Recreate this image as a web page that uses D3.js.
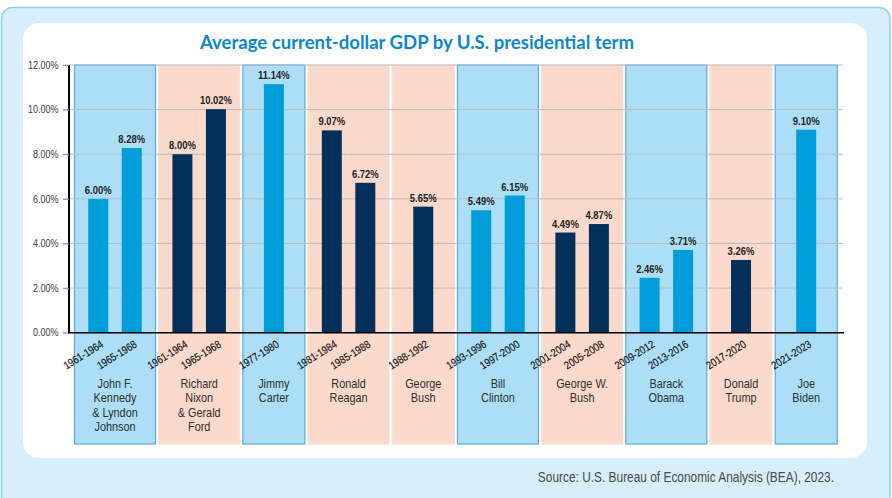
<!DOCTYPE html>
<html>
<head>
<meta charset="utf-8">
<script src="https://cdn.jsdelivr.net/npm/d3@7"></script>
<style>
  html, body { margin: 0; padding: 0; background: #ffffff; }
  svg { display: block; }
  .lbl { font-family: "Liberation Sans", Arial, sans-serif; }
</style>
</head>
<body>
<svg id="chart" width="892" height="498"></svg>
<script>
// Presidential terms, grouped by administration
const presidents = [
  ["John F.", "Kennedy", "& Lyndon", "Johnson"],
  ["Richard", "Nixon", "& Gerald", "Ford"],
  ["Jimmy", "Carter"],
  ["Ronald", "Reagan"],
  ["George", "Bush"],
  ["Bill", "Clinton"],
  ["George W.", "Bush"],
  ["Barack", "Obama"],
  ["Donald", "Trump"],
  ["Joe", "Biden"]
];
const parties = ["D", "R", "D", "R", "R", "D", "R", "D", "R", "D"];
const termLabels = [
  ["1961-1964", "1965-1968"],
  ["1961-1964", "1965-1968"],
  ["1977-1980"],
  ["1981-1984", "1985-1988"],
  ["1988-1992"],
  ["1993-1996", "1997-2000"],
  ["2001-2004", "2005-2008"],
  ["2009-2012", "2013-2016"],
  ["2017-2020"],
  ["2021-2023"]
];
// Average current-dollar GDP growth per term, percent
const gdpValues = [
  [6.00, 8.28],
  [8.00, 10.02],
  [11.14],
  [9.07, 6.72],
  [5.65],
  [5.49, 6.15],
  [4.49, 4.87],
  [2.46, 3.71],
  [3.26],
  [9.10]
];
const yTicks = [0, 2, 4, 6, 8, 10, 12];
const titleText = "Average current-dollar GDP by U.S. presidential term";
const sourceText = "Source: U.S. Bureau of Economic Analysis (BEA), 2023.";

const colors = {
  D: { band: "#acdff7", stroke: "#5ca8df", bar: "#009ddb" },
  R: { band: "#fbd9cb", stroke: "#ece2de", bar: "#02305a" }
};

// Horizontal squeeze applied to label text for a condensed look
const SQ = { tick: 0.9, value: 0.86, term: 0.85, name: 0.87, source: 0.85 };
const termAngle = 32;

const svg = d3.select("#chart");

// Frame: light blue outer panel with a white rounded card inside
svg.append("rect")
  .attr("x", 1.5).attr("y", 7.5).attr("width", 888.5).attr("height", 500)
  .attr("rx", 11).attr("fill", "#d7eefb").attr("stroke", "#90d0f1").attr("stroke-width", 1.5);
svg.append("rect")
  .attr("x", 23).attr("y", 23).attr("width", 844).attr("height", 435)
  .attr("rx", 16).attr("fill", "#ffffff");

svg.append("text")
  .attr("x", 417).attr("y", 49)
  .attr("text-anchor", "middle")
  .attr("font-family", "Lato, 'Open Sans', sans-serif")
  .attr("font-weight", 700)
  .attr("font-size", 18)
  .attr("textLength", 434)
  .attr("lengthAdjust", "spacingAndGlyphs")
  .attr("fill", "#0b87d0")
  .text(titleText);

// Scales
const y = d3.scaleLinear().domain([0, 12]).range([332.7, 65]);

// Group widths in layout units: fixed padding plus one slot per term
const groupUnits = gdpValues.map(v => 44 + 19 * v.length);
const gapUnits = 2.2;
const starts = [];
let acc = 0;
groupUnits.forEach((w, i) => { starts.push(acc); acc += w + (i < groupUnits.length - 1 ? gapUnits : 0); });
const x = d3.scaleLinear().domain([0, acc]).range([74, 837.7]);
const barOffset = 16.75, barWidth = 20;

const groups = presidents.map((name, i) => {
  const x0 = x(starts[i]), x1 = x(starts[i] + groupUnits[i]);
  const cx = (x0 + x1) / 2;
  const n = gdpValues[i].length;
  const bars = gdpValues[i].map((v, j) => ({
    value: v,
    term: termLabels[i][j],
    cx: n === 1 ? cx : cx + (j === 0 ? -barOffset : barOffset),
    party: parties[i]
  }));
  return { name, party: parties[i], x0, x1, cx, bars };
});

// Background bands per administration
const bandBottom = 444;
svg.append("g").selectAll("rect").data(groups).join("rect")
  .attr("x", d => d.x0 + 0.5).attr("y", y(12))
  .attr("width", d => d.x1 - d.x0 - 1).attr("height", d => bandBottom - y(12))
  .attr("fill", d => colors[d.party].band)
  .attr("stroke", d => colors[d.party].stroke)
  .attr("stroke-width", 1.2);

// Gridlines
svg.append("g").selectAll("line").data(yTicks).join("line")
  .attr("x1", 63).attr("x2", 843)
  .attr("y1", d => y(d)).attr("y2", d => y(d))
  .attr("stroke", "#bcbcbc").attr("stroke-width", 1);

// Y axis
const yAxis = svg.append("g")
  .attr("transform", "translate(69,0)")
  .call(d3.axisLeft(y).tickValues(yTicks).tickSize(6).tickPadding(4)
    .tickFormat(d => d.toFixed(2) + "%"));
yAxis.select(".domain").attr("stroke", "#000").attr("stroke-width", 2).attr("d", `M0,${y(12)}V${y(0)}`);
yAxis.selectAll(".tick line").attr("stroke", "#999");
yAxis.selectAll(".tick text")
  .attr("class", "lbl").attr("font-size", 10).attr("fill", "#3a3a3a")
  .attr("x", -10.5 / SQ.tick)
  .attr("transform", `scale(${SQ.tick},1)`);

const allBars = groups.flatMap(g => g.bars);

// Bars
svg.append("g").selectAll("rect").data(allBars).join("rect")
  .attr("x", d => d.cx - barWidth / 2).attr("y", d => y(d.value))
  .attr("width", barWidth).attr("height", d => y(0) - y(d.value))
  .attr("fill", d => colors[d.party].bar);

// Baseline
svg.append("line")
  .attr("x1", 68).attr("x2", 844).attr("y1", y(0)).attr("y2", y(0))
  .attr("stroke", "#000").attr("stroke-width", 1.5);

// Value labels
svg.append("g").selectAll("text").data(allBars).join("text")
  .attr("class", "lbl")
  .attr("transform", d => `translate(${d.cx},${y(d.value) - 5}) scale(${SQ.value},1)`)
  .attr("text-anchor", "middle")
  .attr("font-size", 11).attr("font-weight", 700)
  .attr("fill", "#222")
  .text(d => d.value.toFixed(2) + "%");

// Term labels, rotated under each bar
svg.append("g").selectAll("text").data(allBars).join("text")
  .attr("class", "lbl")
  .attr("transform", d => `translate(${d.cx + 6},${y(0) + 13.5}) rotate(${-termAngle}) scale(${SQ.term},1)`)
  .attr("text-anchor", "end")
  .attr("font-size", 11)
  .attr("fill", "#111")
  .attr("stroke", "#111").attr("stroke-width", 0.15)
  .text(d => d.term);

// Administration names
const nameG = svg.append("g").selectAll("text").data(groups).join("text")
  .attr("class", "lbl")
  .attr("transform", d => `translate(${d.cx},388) scale(${SQ.name},1)`)
  .attr("text-anchor", "middle")
  .attr("font-size", 12.5)
  .attr("fill", "#2e2e2e");
nameG.selectAll("tspan").data(d => d.name).join("tspan")
  .attr("x", 0)
  .attr("dy", (d, i) => i === 0 ? 0 : 14.3)
  .text(d => d);

// Source note
svg.append("text")
  .attr("class", "lbl")
  .attr("transform", `translate(834,482) scale(${SQ.source},1)`)
  .attr("text-anchor", "end")
  .attr("font-size", 14)
  .attr("fill", "#4a4a4a")
  .text(sourceText);
</script>
</body>
</html>
